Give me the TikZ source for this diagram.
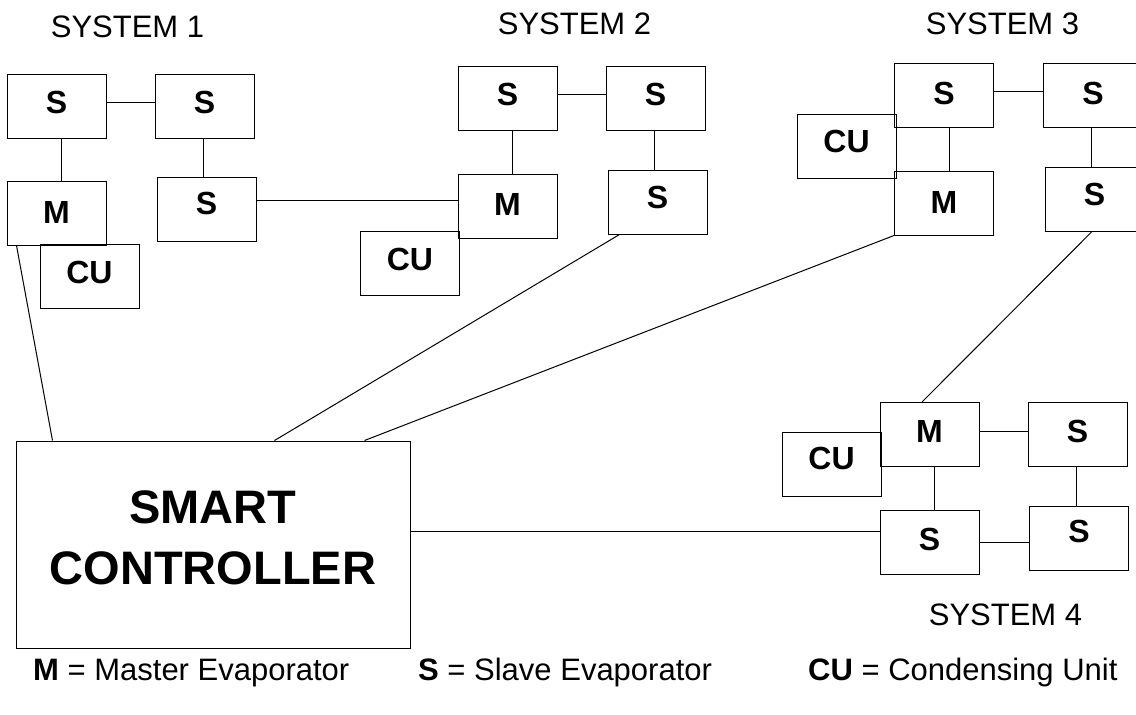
\documentclass[tikz,border=0pt]{standalone}
\usepackage{fontspec}
\setmainfont{Liberation Sans}
\usetikzlibrary{positioning,calc}

\begin{document}
\begin{tikzpicture}[
  x=1pt, y=-1pt,
  unit/.style={draw, line width=1pt, minimum width=99pt, minimum height=64pt, inner sep=0pt, text depth=8pt, font=\bfseries\fontsize{32}{38}\selectfont},
  ctrl/.style={draw, line width=1pt, minimum width=394pt, minimum height=207pt, align=center, text depth=14pt, font=\bfseries\fontsize{47}{61}\selectfont},
  link/.style={line width=1pt},
  syslabel/.style={anchor=base, inner sep=0pt, font=\fontsize{31}{37}\selectfont},
  legend/.style={anchor=base west, inner sep=0pt, font=\fontsize{31}{37}\selectfont}
]
\useasboundingbox (0,0) rectangle (1136,715);

\node[unit] (s1a) at (56.5,106) {S};
\node[unit, right=48pt of s1a] (s1b) {S};
\node[unit, below=42pt of s1a, text depth=1pt] (m1) {M};
\node[unit] (cu1) at (89.5,276) {CU};
\node[unit, text depth=11pt] (s1c) at (206.5,209) {S};

\node[unit] (s2a) at (507.5,98) {S};
\node[unit, right=48pt of s2a] (s2b) {S};
\node[unit, below=43pt of s2a, text depth=3pt] (m2) {M};
\node[unit] (cu2) at (410,263.5) {CU};
\node[unit, text depth=9pt] (s2c) at (657.5,202) {S};

\node[unit, text depth=4pt] (s3a) at (944,95) {S};
\node[unit, right=49pt of s3a, text depth=4pt] (s3b) {S};
\node[unit, below=43pt of s3a, text depth=2pt] (m3) {M};
\node[unit, text depth=10pt] (cu3) at (846.5,146) {CU};
\node[unit, text depth=10pt] (s3c) at (1094.5,199) {S};

\node[unit, text depth=7pt] (m4) at (929.5,434.5) {M};
\node[unit, right=48pt of m4, text depth=7pt] (s4a) {S};
\node[unit, text depth=11pt] (cu4) at (831.5,464) {CU};
\node[unit, below=43pt of m4, text depth=7pt] (s4b) {S};
\node[unit, text depth=13pt] (s4c) at (1079,538) {S};

\node[ctrl] (smart) at (213,544.5) {SMART\\CONTROLLER};

\node[syslabel] (sys1) at (127.5,37) {SYSTEM 1};
\node[syslabel] (sys2) at (574.5,34) {SYSTEM 2};
\node[syslabel] (sys3) at (1002.5,34) {SYSTEM 3};
\node[syslabel] (sys4) at (1005.5,625) {SYSTEM 4};

\node[legend] (keym) at (33,680) {\textbf{M} = Master Evaporator};
\node[legend] (keys) at (418,680) {\textbf{S} = Slave Evaporator};
\node[legend] (keycu) at (808,680) {\textbf{CU} = Condensing Unit};

\draw[link] ([yshift=4pt]s1a.east) -- ([yshift=4pt]s1b.west);
\draw[link] ([xshift=4.5pt]s1a.south) -- ([xshift=4.5pt]m1.north);
\draw[link] ([xshift=-1.5pt]s1b.south) -- ([xshift=-1.5pt]s1b.south |- s1c.north);
\draw[link] ([yshift=9pt]s1c.east) -- ([yshift=9pt]s1c.east -| m2.west);
\draw[link] ([xshift=10pt]m1.south west) -- ([xshift=37pt]smart.north west);

\draw[link] ([yshift=4pt]s2a.east) -- ([yshift=4pt]s2b.west);
\draw[link] ([xshift=5pt]s2a.south) -- ([xshift=5pt]m2.north);
\draw[link] ([xshift=-1.5pt]s2b.south) -- ([xshift=-1.5pt]s2b.south |- s2c.north);
\draw[link] ([xshift=12pt]s2c.south west) -- ([xshift=259pt]smart.north west);

\draw[link] ([yshift=4pt]s3a.east) -- ([yshift=4pt]s3b.west);
\draw[link] ([xshift=5pt]s3a.south) -- ([xshift=5pt]m3.north);
\draw[link] ([xshift=-1.5pt]s3b.south) -- ([xshift=-1.5pt]s3b.south |- s3c.north);
\draw[link] (m3.south west) -- ([xshift=349pt]smart.north west);
\draw[link] ([xshift=-2.5pt]s3c.south) -- ([xshift=-7.5pt]m4.north);

\draw[link] ([yshift=3.5pt]m4.east) -- ([yshift=3.5pt]s4a.west);
\draw[link] ([xshift=4.5pt]m4.south) -- ([xshift=4.5pt]s4b.north);
\draw[link] ([xshift=-1pt]s4a.south) -- ([xshift=-1pt]s4a.south |- s4c.north);
\draw[link] (s4b.east) -- (s4b.east -| s4c.west);
\draw[link] ([yshift=11pt]s4b.west) -- ([yshift=11pt]s4b.west -| smart.east);
\end{tikzpicture}
\end{document}
